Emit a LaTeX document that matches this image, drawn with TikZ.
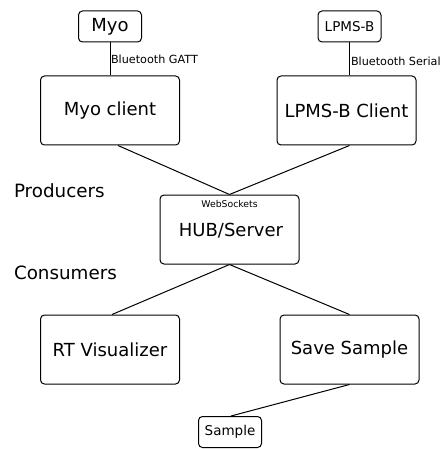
\documentclass[tikz,border=0pt]{standalone}
\usepackage{fontspec}
\setmainfont{DejaVu Sans}
\usetikzlibrary{positioning}

\begin{document}
\begin{tikzpicture}[x=1pt,y=-1pt,line width=1pt,
        bigbox/.style={draw,rounded corners=4pt,minimum width=139pt,minimum height=69pt,inner sep=0pt,font=\fontsize{18}{20}\selectfont},
        smallbox/.style={draw,rounded corners=4pt,minimum width=63pt,minimum height=31pt,inner sep=0pt},
        linklabel/.style={anchor=west,inner sep=0pt,font=\fontsize{11.2}{13}\selectfont}]
        \useasboundingbox (0,0) rectangle (443,449);

        % devices
        \node[smallbox,font=\fontsize{18}{20}\selectfont] (myo) at (110,26.5) {Myo};
        \node[smallbox,font=\fontsize{13.5}{15}\selectfont] (lpms) at (349.5,26.5) {LPMS-B};

        % producers
        \node[bigbox] (myoc) at (110,110.5) {Myo client};
        \node[bigbox] (lpmsc) at (346.5,110.5) {LPMS-B Client};

        \node[anchor=west,inner sep=0pt,font=\fontsize{18.3}{20}\selectfont] (prod) at (13.5,191) {Producers};
        \node[anchor=west,inner sep=0pt,font=\fontsize{18.3}{20}\selectfont] (cons) at (13.5,273) {Consumers};

        % hub
        \node[bigbox] (hub) at (229.5,229.5) {};
        \node[inner sep=0pt,font=\fontsize{18}{20}\selectfont] (hubtxt) at (231,231) {HUB/Server};
        \node[inner sep=0pt,font=\fontsize{9.3}{11}\selectfont] (ws) at (229.5,204) {WebSockets};

        % consumers
        \node[bigbox] (rt) at (110,349.5) {RT Visualizer};
        \node[bigbox] (save) at (349.5,349.5) {Save Sample};
        \node[smallbox,font=\fontsize{13.5}{15}\selectfont] (smp) at (230,432) {Sample};

        \draw (myo) -- (myoc);
        \draw (lpms.south) -- (lpms.south |- lpmsc.north);
        \node[linklabel] (gatt) at (110.5,59) {Bluetooth GATT};
        \node[linklabel] (serial) at (350.5,61) {Bluetooth Serial};

        \draw ([xshift=8pt]myoc.south) -- (hub.north);
        \draw ([xshift=3pt]lpmsc.south) -- (hub.north);
        \draw (hub.south) -- ([xshift=2pt]rt.north);
        \draw (hub.south) -- (save.north);
        \draw (save.south) -- ([xshift=1pt]smp.north);
\end{tikzpicture}
\end{document}
